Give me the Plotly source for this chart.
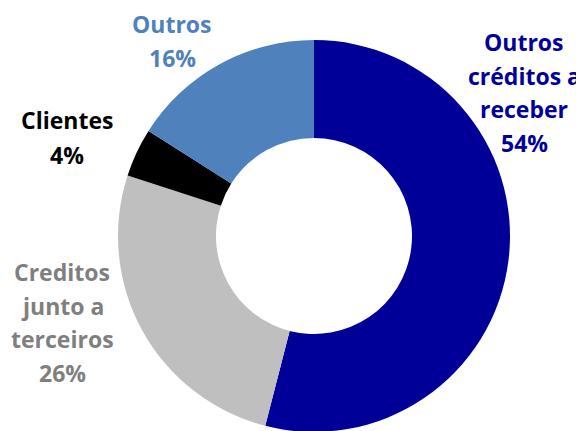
import plotly.graph_objects as go

# Data
categories = ["Outros créditos a receber", "Creditos junto a terceiros", "Clientes", "Outros"]
values = [54, 26, 4, 16]
label_lines = [
    ["Outros", "créditos a", "receber", "54%"],
    ["Creditos", "junto a", "terceiros", "26%"],
    ["Clientes", "4%"],
    ["Outros", "16%"],
]

# Styles
slice_colors = ["#000099", "#BFBFBF", "#000000", "#4F81BD"]
text_colors = ["#000099", "#7F7F7F", "#000000", "#4F81BD"]
OFF = 8  # page body margin offset
# label block anchors (pixel center x, first line center y, line gap) in window coords
label_pos = [(524, 42, 33.7), (62, 272, 33.7), (67, 120, 35), (172, 24, 34)]

W, H = 584, 431
cx, cy, r = 314 - OFF, 236 - OFF, 196

fig = go.Figure(go.Pie(
    labels=categories,
    values=values,
    hole=0.5,
    sort=False,
    direction="clockwise",
    rotation=0,
    textinfo="none",
    hoverinfo="label+percent",
    marker=dict(colors=slice_colors, line=dict(width=0)),
    domain=dict(x=[(cx - r) / W, (cx + r) / W],
                y=[(H - cy - r) / H, (H - cy + r) / H]),
    showlegend=False,
))

annotations = []
for lines, (lx, ly, gap), col in zip(label_lines, label_pos, text_colors):
    for i, ln in enumerate(lines):
        y = ly + i * gap - OFF
        annotations.append(dict(
            text=ln, x=(lx - OFF) / W, y=1 - y / H, xref="paper", yref="paper",
            xanchor="center", yanchor="middle", showarrow=False,
            font=dict(family="Open Sans", size=23, color=col, weight="bold"),
        ))

fig.update_layout(
    width=W, height=H,
    margin=dict(l=0, r=0, t=0, b=0),
    paper_bgcolor="white",
    plot_bgcolor="white",
    annotations=annotations,
)

fig.write_html("out.html")
